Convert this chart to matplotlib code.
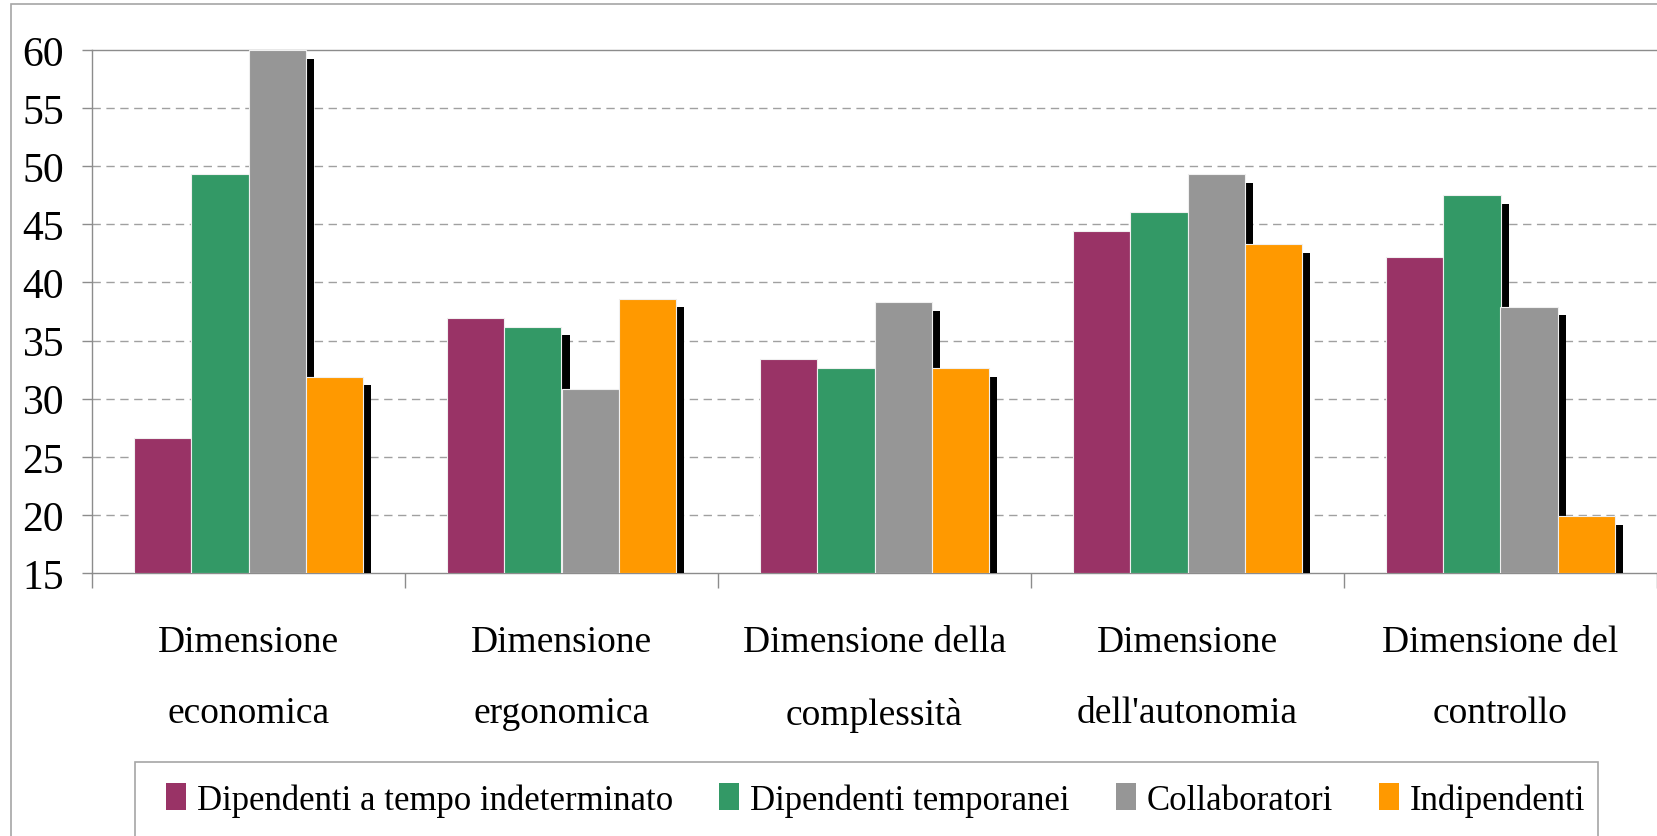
import matplotlib
matplotlib.use("Agg")
import matplotlib.pyplot as plt
import numpy as np
from matplotlib import patheffects
from matplotlib.patches import Patch, Rectangle

categories = ["Dimensione\neconomica", "Dimensione\nergonomica", "Dimensione della\ncomplessità",
              "Dimensione\ndell'autonomia", "Dimensione del\ncontrollo"]
series_names = ["Dipendenti a tempo indeterminato", "Dipendenti temporanei", "Collaboratori", "Indipendenti"]
indeterminato = [26.6, 36.9, 33.4, 44.4, 42.2]
temporanei = [49.3, 36.2, 32.6, 46.1, 47.5]
collaboratori = [60.0, 30.8, 38.3, 49.3, 37.9]
indipendenti = [31.9, 38.6, 32.6, 43.3, 19.9]
colors = ["#993366", "#339966", "#969696", "#FF9900"]
yticks = [15, 20, 25, 30, 35, 40, 45, 50, 55, 60]

plt.rcParams['font.family'] = ['Liberation Serif', 'DejaVu Serif']

fig = plt.figure(figsize=(16.57, 8.37), dpi=100)
ax = fig.add_axes([92/1657, 1-574/837, 1-92/1657, (574-51)/837])

data = [indeterminato, temporanei, collaboratori, indipendenti]
x = np.arange(len(categories))
w = 0.1825
shadow = [patheffects.SimplePatchShadow(offset=(6.2, -6.2), shadow_rgbFace='black', alpha=1.0),
          patheffects.Normal()]
for i, (vals, c) in enumerate(zip(data, colors)):
    ax.bar(x + (i - 1.5) * w, np.array(vals) - 15, bottom=15, width=w, color=c,
           edgecolor='#f0f0f0', linewidth=0.8, zorder=3, path_effects=shadow)

ax.set_xlim(-0.5, len(categories) - 0.5)
ax.set_ylim(15, 60)
ax.set_yticks(yticks)
ax.set_yticklabels([str(v) for v in yticks])
for v in yticks[1:-1]:
    ax.axhline(v, color='#a0a0a0', lw=1.0, ls=(0, (6, 4)), zorder=1)

ax.set_xticks(x)
ax.set_xticklabels(categories, fontsize=27, linespacing=2.4)
ax.set_xticks(np.arange(-0.5, len(categories), 1.0), minor=True)
ax.tick_params(axis='x', which='major', length=0, pad=37)
ax.tick_params(axis='x', which='minor', length=11, color='#8c8c8c', width=1)
ax.tick_params(axis='y', length=7, color='#8c8c8c', width=1, labelsize=30, pad=13)

for s in ['left', 'bottom', 'top']:
    ax.spines[s].set_color('#8c8c8c')
    ax.spines[s].set_linewidth(1)
ax.spines['right'].set_visible(False)

# outer chart border
fig.patches.append(Rectangle((11/1657, -0.1), 1.2, 1 - 5/837 + 0.1, transform=fig.transFigure,
                             fill=False, edgecolor='#a6a6a6', lw=1.2, zorder=0))
# legend box
fig.patches.append(Rectangle((135/1657, -0.1), (1598-135)/1657, 1 - 763/837 + 0.1,
                             transform=fig.transFigure, fill=False, edgecolor='#a6a6a6', lw=1.2, zorder=0))

handles = [Patch(facecolor=c, edgecolor='none') for c in colors]
fig.legend(handles, series_names, loc='center', ncol=4, mode='expand', frameon=False,
           bbox_to_anchor=(166/1657, 1-801/837-0.01, (1585-166)/1657, 0.02),
           fontsize=25, handlelength=0.58, handleheight=0.8, handletextpad=0.3,
           borderpad=0, borderaxespad=0, columnspacing=1.0)

fig.savefig("out.png", dpi=100)
